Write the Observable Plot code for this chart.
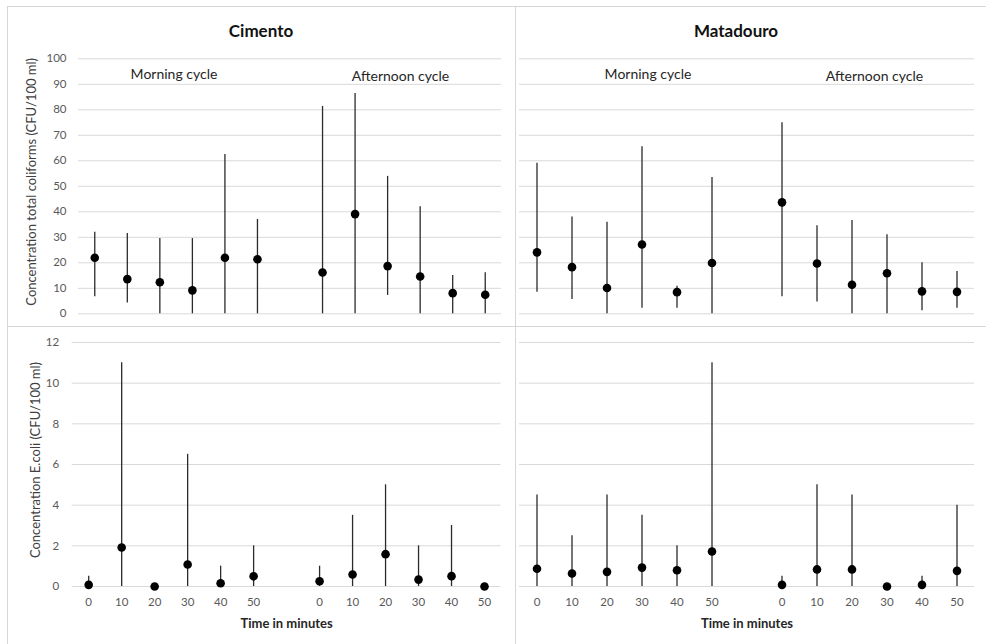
<!DOCTYPE html>
<html>
<head>
<meta charset="utf-8">
<script src="https://cdn.jsdelivr.net/npm/d3@7"></script>
<script src="https://cdn.jsdelivr.net/npm/@observablehq/plot@0.6"></script>
<style>
  html, body { margin: 0; padding: 0; background: #fff; }
  #chart { position: relative; width: 986px; height: 644px; background: #fff; font-family: Lato, "Open Sans", sans-serif; overflow: hidden; }
  #chart svg { position: absolute; overflow: visible; }
  .hline, .vline { position: absolute; background: #d6d6d6; }
  .lbl { position: absolute; white-space: nowrap; transform: translate(-50%, -50%); }
  .title { font-weight: bold; font-size: 17px; color: #111; }
  .cycle { font-size: 14px; color: #262626; }
</style>
</head>
<body>
<div id="chart"></div>
<script>
// ---- categories ----
const minutes = [0, 10, 20, 30, 40, 50];
const cycles = ["Morning cycle", "Afternoon cycle"];
const sites = ["Cimento", "Matadouro"];
const yTicksTotal = [0, 10, 20, 30, 40, 50, 60, 70, 80, 90, 100];
const yTicksEcoli = [0, 2, 4, 6, 8, 10, 12];
const xTitle = "Time in minutes";
const yTitleTotal = "Concentration total coliforms (CFU/100 ml)";
const yTitleEcoli = "Concentration E.coli (CFU/100 ml)";

// ---- values: first 6 = morning cycle (0..50 min), last 6 = afternoon cycle ----
const cimTotalMean = [22.0, 13.6, 12.4, 9.2, 22.0, 21.4, 16.2, 39.1, 18.7, 14.6, 8.1, 7.5];
const cimTotalLow  = [6.7, 4.2, 0, 0, 0, 0, 0, 0, 7.2, 0, 0, 0];
const cimTotalHigh = [32.0, 31.5, 29.5, 29.5, 62.5, 37.0, 81.3, 86.4, 53.9, 42.0, 15.0, 16.1];

const matTotalMean = [24.1, 18.3, 10.1, 27.2, 8.5, 19.9, 43.7, 19.7, 11.4, 15.9, 8.8, 8.6];
const matTotalLow  = [8.5, 5.6, 0, 2.2, 2.2, 0, 6.7, 4.6, 0, 0, 1.2, 2.2];
const matTotalHigh = [59.0, 38.0, 35.9, 65.5, 10.8, 53.5, 74.9, 34.5, 36.6, 31.0, 20.0, 16.6];

const cimEcoliMean = [0.08, 1.92, 0, 1.08, 0.16, 0.5, 0.26, 0.59, 1.59, 0.34, 0.51, 0];
const cimEcoliLow  = [0, 0, 0, 0, 0, 0, 0, 0, 0, 0, 0, 0];
const cimEcoliHigh = [0.5, 11, 0, 6.5, 1, 2, 1, 3.5, 5, 2, 3, 0];

const matEcoliMean = [0.87, 0.64, 0.72, 0.93, 0.80, 1.72, 0.08, 0.84, 0.84, 0, 0.08, 0.77];
const matEcoliLow  = [0, 0, 0, 0, 0, 0, 0, 0, 0, 0, 0, 0];
const matEcoliHigh = [4.5, 2.5, 4.5, 3.5, 2, 11, 0.5, 5, 4.5, 0, 0.5, 4];

// ---- layout ----
const chart = document.getElementById("chart");

function rowsOf(mean, low, high) {
  return mean.map((m, i) => ({
    slot: i < minutes.length ? i : i + 1, // one empty slot between cycles
    minute: minutes[i % minutes.length],
    mean: m, low: low[i], high: high[i]
  }));
}

function panel(o) {
  const rows = rowsOf(o.mean, o.low, o.high);
  const marks = [
    Plot.ruleY(o.yTicks, {stroke: "#d9d9d9", strokeWidth: 1}),
    Plot.ruleX(rows.filter(d => d.high > d.low), {x: "slot", y1: "low", y2: "high", stroke: "#2b2b2b", strokeWidth: 1.3}),
    Plot.dot(rows, {x: "slot", y: "mean", r: 4.3, fill: "#000", stroke: "none"})
  ];
  if (o.yTitle) {
    marks.push(Plot.axisY(o.yTicks, {tickSize: 0, tickPadding: o.tickPad, fill: "#595959", fontSize: 11.5, label: null}));
    marks.push(Plot.text([o.yTitle], {frameAnchor: "left", rotate: -90, textAnchor: "middle", lineAnchor: "middle",
      dx: o.yTitleDx, dy: o.yTitleDy, fill: "#404040", fontSize: 13}));
  }
  if (o.xAxis) {
    marks.push(Plot.text(rows, {x: "slot", text: d => String(d.minute), frameAnchor: "bottom", lineAnchor: "middle",
      dy: 16, fill: "#595959", fontSize: 11.5}));
    marks.push(Plot.text([xTitle], {frameAnchor: "bottom", lineAnchor: "middle", dy: 37, fill: "#262626",
      fontWeight: "bold", fontSize: 13}));
  }
  const svg = Plot.plot({
    width: o.width, height: o.height,
    marginLeft: o.ml, marginRight: o.mr, marginTop: o.mt, marginBottom: o.mb,
    style: {fontFamily: "Lato, 'Open Sans', sans-serif", background: "transparent", overflow: "visible"},
    x: {type: "linear", domain: [-0.5, 12.5], axis: null},
    y: {domain: o.yDomain, axis: null},
    marks
  });
  svg.style.left = o.left + "px";
  svg.style.top = o.top + "px";
  chart.appendChild(svg);
}

// top-left: Cimento total coliforms
panel({mean: cimTotalMean, low: cimTotalLow, high: cimTotalHigh, yDomain: [0, 100], yTicks: yTicksTotal,
  left: 8, top: 7, width: 508, height: 320, ml: 70, mr: 15, mt: 51.3, mb: 13.7,
  yTitle: yTitleTotal, tickPad: 12, yTitleDx: -47, yTitleDy: -4.5, xAxis: false});
// top-right: Matadouro total coliforms
panel({mean: matTotalMean, low: matTotalLow, high: matTotalHigh, yDomain: [0, 100], yTicks: yTicksTotal,
  left: 516, top: 7, width: 470, height: 320, ml: 3, mr: 12, mt: 51.3, mb: 13.7, xAxis: false});
// bottom-left: Cimento E. coli
panel({mean: cimEcoliMean, low: cimEcoliLow, high: cimEcoliHigh, yDomain: [0, 12], yTicks: yTicksEcoli,
  left: 8, top: 327, width: 508, height: 317, ml: 63.7, mr: 15.5, mt: 15, mb: 58,
  yTitle: yTitleEcoli, tickPad: 13, yTitleDx: -36.5, yTitleDy: -4.5, xAxis: true});
// bottom-right: Matadouro E. coli
panel({mean: matEcoliMean, low: matEcoliLow, high: matEcoliHigh, yDomain: [0, 12], yTicks: yTicksEcoli,
  left: 516, top: 327, width: 470, height: 317, ml: 3, mr: 12, mt: 15, mb: 58, xAxis: true});

// panel frame lines
function line(cls, l, t, w, h) {
  const d = document.createElement("div");
  d.className = cls;
  Object.assign(d.style, {left: l + "px", top: t + "px", width: w + "px", height: h + "px"});
  chart.appendChild(d);
}
line("hline", 8, 6, 978, 1);
line("hline", 8, 326, 978, 1);
line("vline", 7, 6, 1, 638);
line("vline", 515, 6, 1, 638);

// titles and cycle annotations
function label(cls, text, cx, cy) {
  const d = document.createElement("div");
  d.className = "lbl " + cls;
  d.textContent = text;
  d.style.left = cx + "px";
  d.style.top = cy + "px";
  chart.appendChild(d);
}
label("title", sites[0], 261, 30);
label("title", sites[1], 736, 30);
label("cycle", cycles[0], 174, 73);
label("cycle", cycles[1], 400.5, 75);
label("cycle", cycles[0], 648, 73);
label("cycle", cycles[1], 874.5, 75);
</script>
</body>
</html>
